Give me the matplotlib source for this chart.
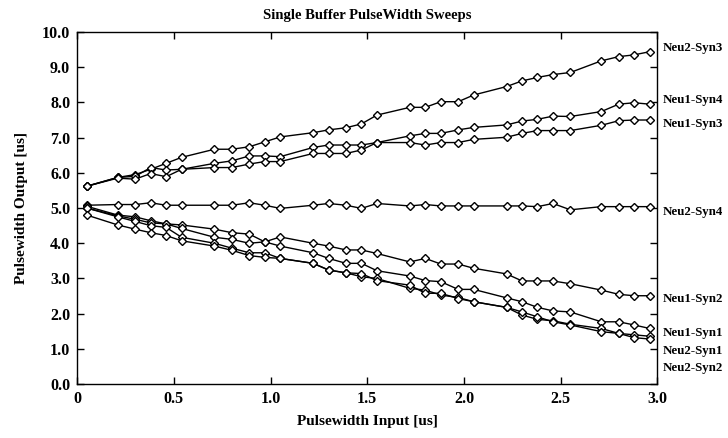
import numpy as np
import matplotlib.pyplot as plt

# pulse width input sweep points [us]
x_in = [0.05, 0.21, 0.30, 0.38, 0.46, 0.54, 0.71, 0.80, 0.89, 0.97,
        1.05, 1.22, 1.30, 1.39, 1.47, 1.55, 1.72, 1.80, 1.88, 1.97,
        2.05, 2.22, 2.30, 2.38, 2.46, 2.55, 2.71, 2.80, 2.88, 2.96]

neu2_syn3 = [5.62, 5.87, 5.95, 6.10, 6.27, 6.44, 6.67, 6.67, 6.74, 6.88,
             7.02, 7.14, 7.22, 7.28, 7.39, 7.64, 7.86, 7.86, 8.02, 8.02,
             8.21, 8.45, 8.61, 8.71, 8.79, 8.85, 9.18, 9.30, 9.35, 9.44]
neu1_syn4 = [5.62, 5.87, 5.90, 6.15, 6.08, 6.10, 6.27, 6.34, 6.48, 6.48,
             6.46, 6.72, 6.79, 6.79, 6.79, 6.86, 7.05, 7.12, 7.12, 7.22,
             7.29, 7.36, 7.47, 7.52, 7.61, 7.60, 7.74, 7.95, 7.99, 7.95]
neu1_syn3 = [5.62, 5.85, 5.82, 5.98, 5.89, 6.10, 6.15, 6.15, 6.25, 6.32,
             6.32, 6.55, 6.55, 6.55, 6.65, 6.86, 6.86, 6.79, 6.86, 6.86,
             6.95, 7.01, 7.12, 7.20, 7.20, 7.20, 7.35, 7.48, 7.50, 7.50]
neu2_syn4 = [5.08, 5.10, 5.10, 5.15, 5.08, 5.08, 5.08, 5.08, 5.15, 5.08,
             4.99, 5.08, 5.13, 5.08, 4.99, 5.13, 5.06, 5.10, 5.06, 5.06,
             5.06, 5.06, 5.06, 5.04, 5.13, 4.95, 5.04, 5.04, 5.04, 5.04]
neu1_syn2 = [5.05, 4.80, 4.75, 4.64, 4.55, 4.52, 4.40, 4.30, 4.26, 4.04,
             4.18, 4.00, 3.92, 3.81, 3.81, 3.71, 3.47, 3.57, 3.41, 3.41,
             3.29, 3.13, 2.93, 2.93, 2.93, 2.85, 2.67, 2.55, 2.51, 2.51]
neu1_syn1 = [5.00, 4.78, 4.68, 4.58, 4.55, 4.42, 4.17, 4.11, 4.00, 4.04,
             3.92, 3.73, 3.57, 3.43, 3.43, 3.22, 3.07, 2.94, 2.91, 2.69,
             2.69, 2.45, 2.34, 2.18, 2.08, 2.05, 1.77, 1.77, 1.68, 1.58]
neu2_syn1 = [5.00, 4.75, 4.62, 4.50, 4.45, 4.17, 4.00, 3.86, 3.73, 3.73,
             3.57, 3.43, 3.24, 3.16, 3.05, 3.00, 2.72, 2.67, 2.53, 2.46,
             2.34, 2.18, 1.96, 1.84, 1.80, 1.70, 1.58, 1.44, 1.40, 1.36]
neu2_syn2 = [4.80, 4.52, 4.40, 4.30, 4.22, 4.07, 3.92, 3.80, 3.65, 3.60,
             3.57, 3.43, 3.24, 3.16, 3.14, 2.94, 2.81, 2.58, 2.58, 2.43,
             2.34, 2.18, 2.05, 1.91, 1.77, 1.68, 1.49, 1.44, 1.32, 1.28]

series = [neu2_syn3, neu1_syn4, neu1_syn3, neu2_syn4,
          neu1_syn2, neu1_syn1, neu2_syn1, neu2_syn2]
names = ['Neu2-Syn3', 'Neu1-Syn4', 'Neu1-Syn3', 'Neu2-Syn4',
         'Neu1-Syn2', 'Neu1-Syn1', 'Neu2-Syn1', 'Neu2-Syn2']
# where the right-hand labels sit (y in data units)
label_y = [9.55, 8.07, 7.38, 4.90, 2.41, 1.44, 0.95, 0.45]

plt.rcParams['font.family'] = ['Liberation Serif', 'DejaVu Serif']
plt.rcParams['font.weight'] = 'bold'

fig = plt.figure(figsize=(7.28, 4.38), dpi=100)
ax = fig.add_axes([0.106, 0.123, 0.797, 0.804])

for ys in series:
    ax.plot(x_in, ys, color='black', lw=1.0, marker='D', ms=4.0,
            mfc='white', mec='black', mew=1.0)

for name, ly in zip(names, label_y):
    ax.text(1.01, ly, name, transform=ax.get_yaxis_transform(),
            fontsize=9.3, fontweight='bold', va='center', ha='left')

ax.set_xlim(0, 3.0)
ax.set_ylim(0, 10.0)
ax.set_xticks([0, 0.5, 1.0, 1.5, 2.0, 2.5, 3.0])
ax.set_xticklabels(['0', '0.5', '1.0', '1.5', '2.0', '2.5', '3.0'])
ax.set_yticks(np.arange(0, 10.5, 1.0))
ax.set_yticklabels(['%.1f' % v for v in np.arange(0, 10.5, 1.0)])
ax.tick_params(direction='in', top=True, right=True, length=5, width=1,
               labelsize=11.5, pad=5)
for lab in ax.get_xticklabels() + ax.get_yticklabels():
    lab.set_fontweight('bold')
for sp in ax.spines.values():
    sp.set_linewidth(1.0)

ax.set_title('Single Buffer PulseWidth Sweeps', fontsize=10.5,
             fontweight='bold', pad=9)
ax.set_xlabel('Pulsewidth Input [us]', fontsize=11, fontweight='bold',
              labelpad=6)
ax.set_ylabel('Pulsewidth Output [us]', fontsize=11, fontweight='bold',
              labelpad=10)

fig.savefig('out.png', dpi=100)
